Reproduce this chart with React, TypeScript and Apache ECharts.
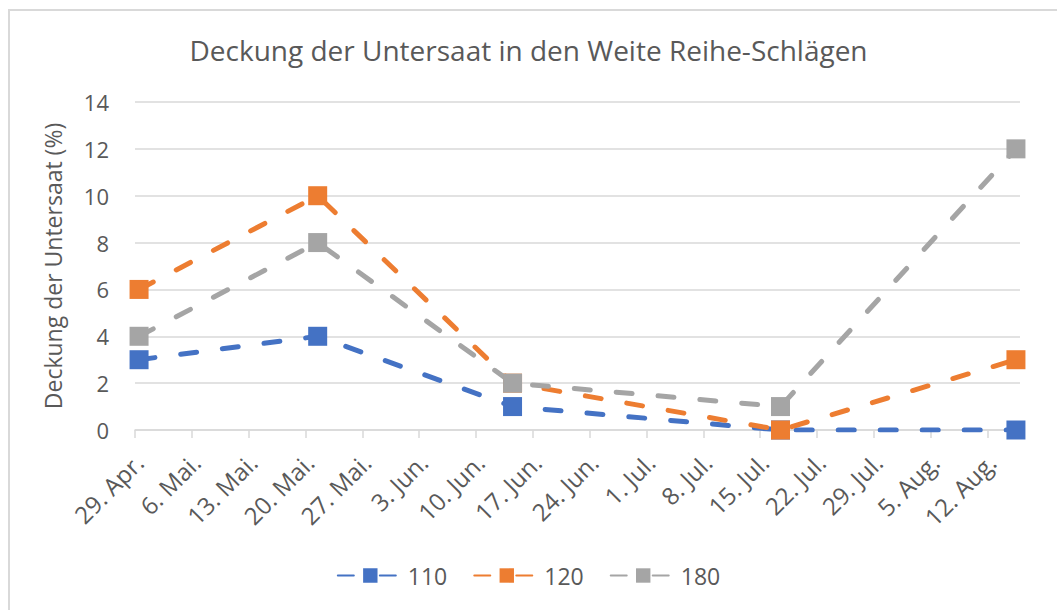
import React, { useEffect, useRef } from "react";
import * as echarts from "echarts";

const titleText = "Deckung der Untersaat in den Weite Reihe-Schlägen";
const yAxisName = "Deckung der Untersaat (%)";
const tickLabels = [
  "29. Apr.", "6. Mai.", "13. Mai.", "20. Mai.", "27. Mai.", "3. Jun.", "10. Jun.", "17. Jun.",
  "24. Jun.", "1. Jul.", "8. Jul.", "15. Jul.", "22. Jul.", "29. Jul.", "5. Aug.", "12. Aug.",
];
const dayCount = 109; // 29 Apr .. 15 Aug, one category per day
const pointDays = [0, 22, 46, 79, 108]; // 29 Apr, 21 Mai, 14 Jun, 17 Jul, 15 Aug
const seriesNames = ["110", "120", "180"];
const values110 = [3, 4, 1, 0, 0];
const values120 = [6, 10, 2, 0, 3];
const values180 = [4, 8, 2, 1, 12];
const colors = ["#4472C4", "#ED7D31", "#A5A5A5"];

const FONT = "'Open Sans', 'Liberation Sans', sans-serif";

export default function App() {
  const ref = useRef<HTMLDivElement>(null);
  useEffect(() => {
    if (!ref.current) return;
    const chart = echarts.init(ref.current, null, { renderer: "svg" });
    const days = Array.from({ length: dayCount }, (_, i) => String(i));
    const all = [values110, values120, values180];
    chart.setOption({
      animation: false,
      textStyle: { fontFamily: FONT },
      title: {
        text: titleText,
        left: "center",
        top: 31,
        textStyle: { fontSize: 28, fontWeight: "normal", color: "#595959", fontFamily: FONT },
      },
      legend: {
        bottom: 18,
        left: "center",
        itemWidth: 65,
        itemHeight: 18,
        itemGap: 26,
        textStyle: { fontSize: 23, color: "#595959", fontFamily: FONT },
        data: seriesNames,
      },
      grid: { left: 135, right: 37, top: 102, bottom: 180, containLabel: false },
      xAxis: {
        type: "category",
        data: days,
        boundaryGap: true,
        axisLine: { lineStyle: { color: "#D9D9D9", width: 1.5 } },
        axisTick: {
          show: true,
          length: 8,
          interval: (i: number) => i % 7 === 0,
          lineStyle: { color: "#D9D9D9", width: 1.5 },
        },
        axisLabel: {
          interval: (i: number) => i % 7 === 0 && i / 7 < tickLabels.length,
          formatter: (_v: string, i: number) => (i % 7 === 0 ? tickLabels[i / 7] ?? "" : ""),
          rotate: 45,
          margin: 28,
          fontSize: 24,
          color: "#595959",
          fontFamily: FONT,
        },
        splitLine: { show: false },
      },
      yAxis: {
        type: "value",
        min: 0,
        max: 14,
        interval: 2,
        name: yAxisName,
        nameLocation: "middle",
        nameGap: 71,
        nameTextStyle: { fontSize: 23, color: "#595959", fontFamily: FONT },
        axisLine: { show: false },
        axisTick: { show: false },
        axisLabel: { fontSize: 22, color: "#595959", margin: 26, fontFamily: FONT },
        splitLine: { lineStyle: { color: "#D9D9D9", width: 1.5 } },
      },
      series: seriesNames.map((name, s) => ({
        name,
        type: "line",
        data: pointDays.map((d, k) => [d, all[s][k]]),
        symbol: "rect",
        symbolSize: 19,
        showAllSymbol: true,
        color: colors[s],
        itemStyle: { color: colors[s] },
        lineStyle: { color: colors[s], width: 5, type: [16, 26], cap: "round", join: "round" },
      })),
    });
    return () => chart.dispose();
  }, []);
  return (
    <div style={{ position: "fixed", left: 0, top: 0, width: 1057, height: 610, overflow: "hidden", background: "#fff" }}>
      <div
        style={{
          position: "absolute",
          left: 8,
          top: 9,
          width: 1200,
          height: 800,
          borderLeft: "2px solid #D9D9D9",
          borderTop: "2px solid #D9D9D9",
        }}
      />
      <div ref={ref} style={{ position: "absolute", left: 0, top: 0, width: 1057, height: 610 }} />
    </div>
  );
}
